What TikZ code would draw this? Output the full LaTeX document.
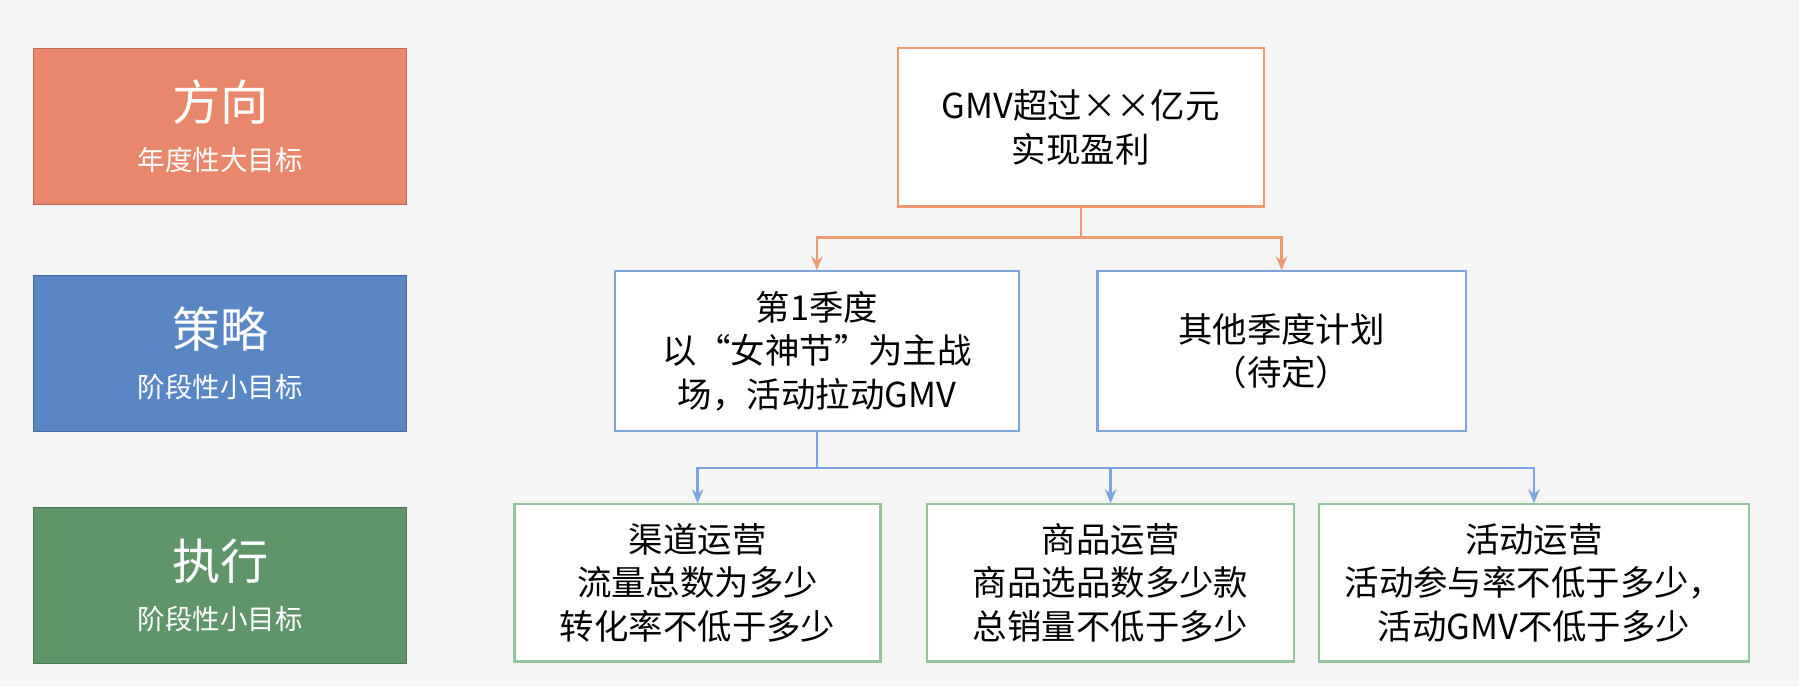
\documentclass[tikz,border=0pt]{standalone}
\usepackage{fontspec}
\setmainfont{Noto Sans CJK SC}
\usetikzlibrary{arrows.meta}
\definecolor{cA}{HTML}{E8876B}\definecolor{cB}{HTML}{5A86C6}\definecolor{cC}{HTML}{5F9568}
\definecolor{bA}{HTML}{EE9A70}\definecolor{bB}{HTML}{7DA4DC}\definecolor{bC}{HTML}{92C59B}
\tikzset{
 lvl/.style={minimum width=162.5pt,minimum height=68pt,text=white,align=center,inner sep=0pt},
 bx/.style={draw,line width=1pt,fill=white,align=center,font=\fontsize{15}{19}\selectfont,inner sep=0pt},
 arr/.style={line width=1pt,-{Stealth[length=6pt,width=5pt]}}
}
\begin{document}
\begin{tikzpicture}[x=0.5pt,y=-0.5pt]
\fill[white!96!black] (0,0) rectangle (1568,598);
\useasboundingbox (0,0) rectangle (1568,598);
\node[lvl,fill=cA,draw=cA!80!black] (l1) at (192,110) {\fontsize{21}{24}\selectfont 方向\\[10pt]\fontsize{12}{14}\selectfont 年度性大目标};
\node[lvl,fill=cB,draw=cB!80!black] (l2) at (192,308) {\fontsize{21}{24}\selectfont 策略\\[10pt]\fontsize{12}{14}\selectfont 阶段性小目标};
\node[lvl,fill=cC,draw=cC!80!black] (l3) at (192,510) {\fontsize{21}{24}\selectfont 执行\\[10pt]\fontsize{12}{14}\selectfont 阶段性小目标};
\node[bx,draw=bA,minimum width=159.5pt,minimum height=69pt] (t) at (942,111) {GMV超过××亿元\\实现盈利};
\node[bx,draw=bB,minimum width=176pt,minimum height=69.5pt] (s1) at (712,306) {第1季度\\以“女神节”为主战\\场，活动拉动GMV};
\node[bx,draw=bB,minimum width=160.5pt,minimum height=69.5pt] (s2) at (1117,306) {其他季度计划\\（待定）};
\node[bx,draw=bC,minimum width=159.5pt,minimum height=68.5pt] (e1) at (608,508) {渠道运营\\流量总数为多少\\转化率不低于多少};
\node[bx,draw=bC,minimum width=160pt,minimum height=68.5pt] (e2) at (968,508) {商品运营\\商品选品数多少款\\总销量不低于多少};
\node[bx,draw=bC,minimum width=187.5pt,minimum height=68.5pt] (e3) at (1337,508) {活动运营\\活动参与率不低于多少，\\活动GMV不低于多少};
\coordinate (j1) at (942,207);
\coordinate (j2) at (712,408);
\draw[bA,line width=1pt] (t.south) -- (j1);
\draw[arr,bA] (j1) -| (s1.north);
\draw[arr,bA] (j1) -| (s2.north);
\draw[bB,line width=1pt] (s1.south) -- (j2);
\draw[arr,bB] (j2) -| (e1.north);
\draw[arr,bB] (j2) -| (e2.north);
\draw[arr,bB] (j2) -| (e3.north);
\end{tikzpicture}
\end{document}
